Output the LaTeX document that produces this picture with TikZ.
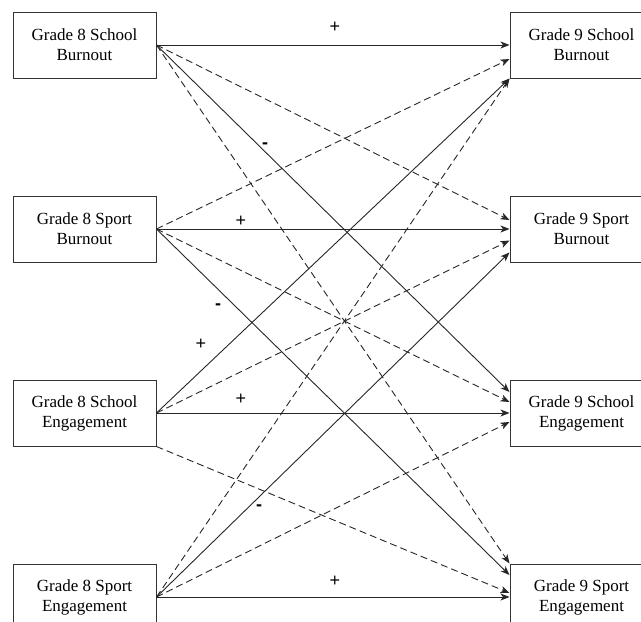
\documentclass[tikz,border=0pt]{standalone}
\usepackage{fontspec}
\setmainfont{Liberation Serif}
\newfontfamily\signfont{Liberation Sans}
\usetikzlibrary{arrows.meta,positioning}

\begin{document}
\begin{tikzpicture}[x=1pt, y=-1pt, node distance=117pt and 353pt,
            box/.style={draw=black!80, line width=1pt, rectangle, align=center,
                minimum width=143pt, minimum height=66pt, inner sep=0pt,
                font=\fontsize{17}{20}\selectfont},
            sign/.style={inner sep=0pt, font=\signfont\fontsize{18}{18}\selectfont},
            pathA/.style={draw=black!85, line width=0.9pt,
                -{Stealth[length=9pt, width=7pt, inset=2.5pt]}},
            pathB/.style={pathA, dash pattern=on 7pt off 4pt}]
        \useasboundingbox (0,0) rectangle (641,622);

        % grade 8 (left column)
        \node[box] (schB8) at (84.5,45) {Grade 8 School\\Burnout};
        \node[box, below=of schB8] (spoB8) {Grade 8 Sport\\Burnout};
        \node[box, below=of spoB8] (schE8) {Grade 8 School\\Engagement};
        \node[box, below=of schE8] (spoE8) {Grade 8 Sport\\Engagement};

        % grade 9 (right column)
        \node[box, right=of schB8] (schB9) {Grade 9 School\\Burnout};
        \node[box, right=of spoB8] (spoB9) {Grade 9 Sport\\Burnout};
        \node[box, right=of schE8] (schE9) {Grade 9 School\\Engagement};
        \node[box, right=of spoE8] (spoE9) {Grade 9 Sport\\Engagement};

        % from school burnout
        \path[pathA] (schB8.east) -- (schB9.west);
        \path[pathB] (schB8.east) -- ([yshift=9pt]spoB9.west);
        \path[pathA] (schB8.east) -- ([yshift=21pt]schE9.west);
        \path[pathB] (schB8.east) -- (spoE9.north west);

        % from sport burnout
        \path[pathB] (spoB8.east) -- ([yshift=-14pt]schB9.west);
        \path[pathA] (spoB8.east) -- (spoB9.west);
        \path[pathB] (spoB8.east) -- ([yshift=11pt]schE9.west);
        \path[pathA] (spoB8.east) -- ([yshift=22pt]spoE9.west);

        % from school engagement
        \path[pathA] (schE8.east) -- (schB9.south west);
        \path[pathB] (schE8.east) -- ([yshift=-11.5pt]spoB9.west);
        \path[pathA] (schE8.east) -- (schE9.west);
        \path[pathB] (schE8.south east) -- ([yshift=4pt]spoE9.west);

        % from sport engagement
        \path[pathB] (spoE8.east) -- (schB9.south west);
        \path[pathA] (spoE8.east) -- ([yshift=-23.5pt]spoB9.west);
        \path[pathB] (spoE8.east) -- ([yshift=-9pt]schE9.west);
        \path[pathA] (spoE8.east) -- (spoE9.west);

        % signs
        \node[sign] (sgn1) at (335,27) {+};
        \node[sign] (sgn2) at (265,146) {\bfseries -};
        \node[sign] (sgn3) at (241,221) {+};
        \node[sign] (sgn4) at (218,307) {\bfseries -};
        \node[sign] (sgn5) at (201,344) {+};
        \node[sign] (sgn6) at (241,399) {+};
        \node[sign] (sgn7) at (259,508) {\bfseries -};
        \node[sign] (sgn8) at (335,581) {+};
\end{tikzpicture}
\end{document}
